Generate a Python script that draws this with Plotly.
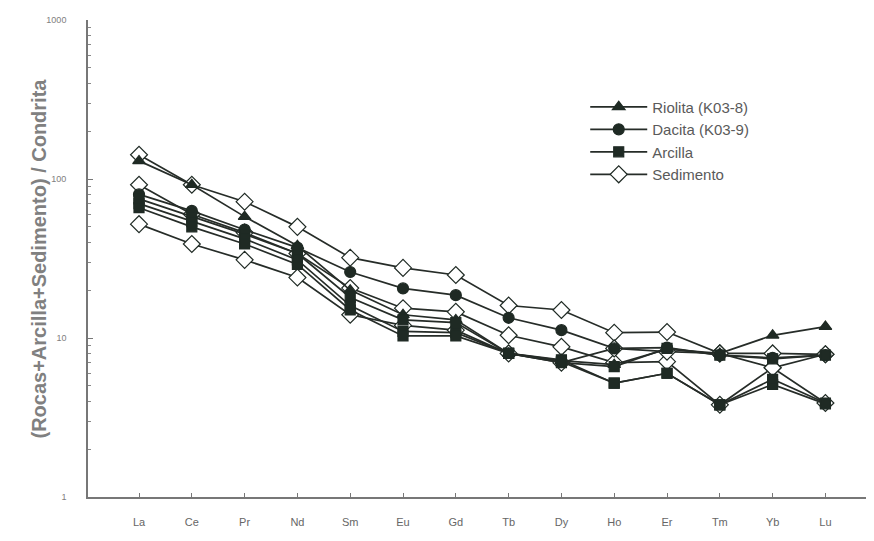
import plotly.graph_objects as go

elements = ["La", "Ce", "Pr", "Nd", "Sm", "Eu", "Gd", "Tb", "Dy", "Ho", "Er", "Tm", "Yb", "Lu"]

riolita = [130, 92, 58, 38, 20, 14, 13, 8.0, 7.2, 6.8, 8.5, 8.0, 10.4, 11.8]
dacita = [80, 63, 48, 37, 26, 20.5, 18.6, 13.4, 11.2, 8.6, 8.7, 7.8, 7.5, 7.8]
arcilla_1 = [75, 58, 45, 34, 18, 13, 12.5, 8.0, 7.3, 5.2, 6.0, 3.8, 5.1, 3.85]
arcilla_2 = [70, 54, 42, 31, 16, 11, 10.8, 8.0, 7.1, 5.2, 6.0, 3.8, 5.5, 3.9]
arcilla_3 = [66, 50, 39, 29, 15, 10.3, 10.3, 8.0, 7.0, 6.6, 8.6, 7.8, 7.4, 7.8]
sedimento_1 = [142, 92, 72, 50, 32, 27.6, 24.9, 16, 15, 10.8, 10.9, 8.0, 8.0, 7.9]
sedimento_2 = [92, 60, 46, 34, 20.6, 15.4, 14.6, 10.4, 8.8, 7.0, 7.1, 3.8, 6.5, 3.9]
sedimento_3 = [52, 39, 31, 24, 14, 12, 11.2, 8.0, 7.0, 8.6, 8.2, 8.0, 6.5, 7.9]

y_tickvals = [1, 10, 100, 1000]
y_ticktext = ["1", "10", "100", "1000"]
y_title = "(Rocas+Arcilla+Sedimento) / Condrita"

line_col = "#262c28"
mark_col = "#1f2a24"

fig = go.Figure()

def add(name, vals, symbol, size, filled, show, rank, group):
    fig.add_trace(go.Scatter(
        x=elements, y=vals, mode="lines+markers", name=name,
        legendgroup=group, showlegend=show, legendrank=rank,
        line=dict(color=line_col, width=1.7),
        marker=dict(symbol=symbol, size=size,
                    color=mark_col if filled else "white",
                    line=dict(color=mark_col, width=1.2)),
    ))

add("Sedimento", sedimento_1, "diamond", 13, False, True, 4, "sed")
add("Sedimento", sedimento_2, "diamond", 13, False, False, 4, "sed")
add("Sedimento", sedimento_3, "diamond", 13, False, False, 4, "sed")
add("Riolita (K03-8)", riolita, "triangle-up", 11, True, True, 1, "rio")
add("Dacita (K03-9)", dacita, "circle", 11, True, True, 2, "dac")
add("Arcilla", arcilla_1, "square", 10, True, True, 3, "arc")
add("Arcilla", arcilla_2, "square", 10, True, False, 3, "arc")
add("Arcilla", arcilla_3, "square", 10, True, False, 3, "arc")

minor_vals = [m * 10 ** e for e in range(0, 3) for m in range(2, 10)]

fig.update_layout(
    width=866, height=533,
    margin=dict(l=80, r=0, t=12, b=44),
    paper_bgcolor="white", plot_bgcolor="white",
    font=dict(family="Liberation Sans, Arial, sans-serif", color="#666666"),
    legend=dict(x=0.6326, y=0.852, xanchor="left", yanchor="top",
                bgcolor="rgba(0,0,0,0)", font=dict(size=15, color="#5a5a5a"),
                tracegroupgap=0, itemwidth=57),
    xaxis=dict(
        range=[-0.966, 13.92], showgrid=False, zeroline=False, automargin=False,
        showline=True, linecolor="#777777", linewidth=1.6,
        ticks="inside", ticklen=4, tickcolor="#777777",
        tickfont=dict(size=11, color="#666666"), ticklabelstandoff=14,
    ),
    yaxis=dict(
        type="log", range=[0, 3], showgrid=False, zeroline=False, automargin=False,
        showline=True, linecolor="#777777", linewidth=1.6,
        tickmode="array", tickvals=y_tickvals, ticktext=y_ticktext,
        ticks="inside", ticklen=5, tickcolor="#777777",
        tickfont=dict(size=9, color="#808080"), ticklabelstandoff=18,
        minor=dict(ticks="inside", ticklen=3, tickcolor="#888888",
                   tickmode="array", tickvals=minor_vals, showgrid=False),
    ),
    annotations=[dict(
        text="<b>" + y_title + "</b>", textangle=-90,
        xref="paper", yref="paper", x=-0.0636, y=0.5,
        xanchor="center", yanchor="middle", showarrow=False,
        font=dict(size=20, color="#808080"),
    )],
)

fig.write_html("out.html")
